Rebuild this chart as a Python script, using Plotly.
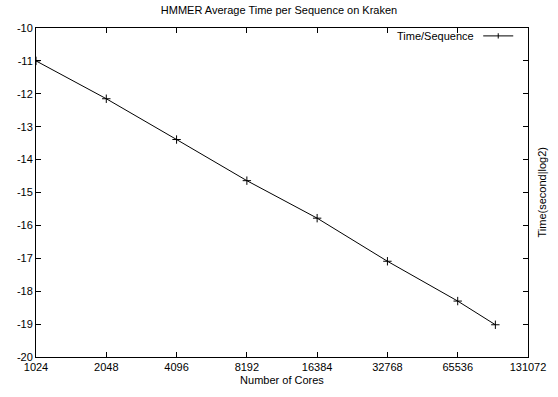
import plotly.graph_objects as go
import math

cores = [1024, 2048, 4096, 8192, 16384, 32768, 65536, 95000]
time_log2 = [-11.0, -12.15, -13.39, -14.64, -15.78, -17.09, -18.30, -19.02]
x_ticks = [1024, 2048, 4096, 8192, 16384, 32768, 65536, 131072]
y_ticks = [-10, -11, -12, -13, -14, -15, -16, -17, -18, -19, -20]

FONT = "Liberation Sans, Arial, Helvetica, sans-serif"

fig = go.Figure()
fig.add_trace(go.Scatter(
    x=cores, y=time_log2, mode="lines+markers", name="Time/Sequence",
    line=dict(color="black", width=1),
    marker=dict(symbol="cross-thin", size=6, line=dict(color="black", width=1)),
    showlegend=False,
))

axis_common = dict(
    showgrid=False, zeroline=False, showline=True, linecolor="black", linewidth=1,
    mirror="ticks", ticks="inside", ticklen=5, tickcolor="black", tickwidth=1,
    tickfont=dict(family=FONT, size=11, color="black"),
)

fig.update_xaxes(
    type="log", range=[math.log10(1024), math.log10(131072)],
    tickvals=x_ticks, ticktext=[str(v) for v in x_ticks],
    title=dict(text="Number of Cores", font=dict(family=FONT, size=11, color="black"), standoff=4),
    **axis_common,
)
fig.update_yaxes(
    range=[-20, -10], tickvals=y_ticks, ticktext=[str(v) for v in y_ticks],
    **axis_common,
)

# legend (gnuplot style: text then sample)
lx0, lx1, ly = 0.909, 0.970, 0.976
fig.add_annotation(text="Time/Sequence", xref="paper", yref="paper", x=0.895, y=ly,
                   xanchor="right", yanchor="middle", showarrow=False,
                   font=dict(family=FONT, size=11, color="black"))
fig.add_shape(type="line", xref="paper", yref="paper", x0=lx0, x1=lx1, y0=ly, y1=ly,
              line=dict(color="black", width=1))
xm = (lx0 + lx1) / 2
fig.add_shape(type="line", xref="paper", yref="paper", x0=xm, x1=xm, y0=ly - 0.008, y1=ly + 0.008,
              line=dict(color="black", width=1))

# right-side y label
fig.add_annotation(text="Time(second|log2)", xref="paper", yref="paper", x=1, y=0.5,
                   xshift=5, xanchor="left", yanchor="middle", textangle=-90, showarrow=False,
                   font=dict(family=FONT, size=11, color="black"))

fig.update_layout(
    width=558, height=397,
    margin=dict(l=36, r=30, t=28, b=37),
    paper_bgcolor="white", plot_bgcolor="white",
    hovermode=False,
    title=dict(text="HMMER Average Time per Sequence on Kraken", x=0.5, xanchor="center",
               y=0.975, yanchor="middle", font=dict(family=FONT, size=11, color="black")),
)

fig.write_html("out.html", config={"displayModeBar": False},
               post_script="document.body.style.margin='0';document.body.style.overflow='hidden';")
